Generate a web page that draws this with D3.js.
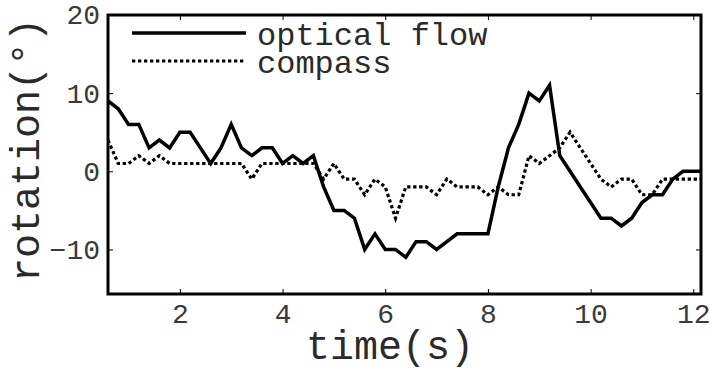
<!DOCTYPE html>
<html>
<head>
<meta charset="utf-8">
<script src="https://cdn.jsdelivr.net/npm/d3@7"></script>
<style>
  body { margin: 0; background: #fff; }
  text { font-family: "Liberation Mono", "Courier New", monospace; }
</style>
</head>
<body>
<svg width="710" height="371"></svg>
<script>
var time = [0.6, 0.8, 1.0, 1.2, 1.4, 1.6, 1.8, 2.0, 2.2, 2.4, 2.6, 2.8, 3.0, 3.2, 3.4, 3.6, 3.8, 4.0, 4.2, 4.4,
    4.6, 4.8, 5.0, 5.2, 5.4, 5.6, 5.8, 6.0, 6.2, 6.4, 6.6, 6.8, 7.0, 7.2, 7.4, 7.6, 7.8, 8.0, 8.2, 8.4,
    8.6, 8.8, 9.0, 9.2, 9.4, 9.6, 9.8, 10.0, 10.2, 10.4, 10.6, 10.8, 11.0, 11.2, 11.4, 11.6, 11.8, 12.0, 12.2];

var opticalFlow = [9, 8, 6, 6, 3, 4, 3, 5, 5, 3, 1, 3, 6, 3, 2, 3, 3, 1, 2, 1,
    2, -2, -5, -5, -6, -10, -8, -10, -10, -11, -9, -9, -10, -9, -8, -8, -8, -8, -2, 3,
    6, 10, 9, 11, 2, 0, -2, -4, -6, -6, -7, -6, -4, -3, -3, -1, 0, 0, 0];

var compass = [4, 1, 1, 2, 1, 2, 1, 1, 1, 1, 1, 1, 1, 1, -1, 1, 1, 1, 1, 1,
    1, -1, 1, -1, -1, -3, -1, -2, -6, -2, -2, -2, -3, -1, -2, -2, -2, -3, -2, -3,
    -3, 2, 1, 2, 3, 5, 3, 1, -1, -2, -1, -1, -3, -3, -1, -1, -1, -1, -1];

var xTicks = [2, 4, 6, 8, 10, 12];
var yTicks = [-10, 0, 10, 20];
var seriesNames = ["optical flow", "compass"];

var svg = d3.select("svg"),
    margin = {top: 15, right: 9, bottom: 77, left: 108},
    width = +svg.attr("width") - margin.left - margin.right,
    height = +svg.attr("height") - margin.top - margin.bottom,
    g = svg.append("g").attr("transform", "translate(" + margin.left + "," + margin.top + ")");

var x = d3.scaleLinear()
    .domain([0.6, 12.15])
    .range([0, width]);

var y = d3.scaleLinear()
    .domain([-15.7, 20])
    .range([height, 0]);

g.append("clipPath")
    .attr("id", "clip")
  .append("rect")
    .attr("width", width)
    .attr("height", height);

var line = d3.line()
    .x(function(d) { return x(d[0]); })
    .y(function(d) { return y(d[1]); });

var flowData = time.map(function(t, i) { return [t, opticalFlow[i]]; });
var compassData = time.map(function(t, i) { return [t, compass[i]]; });

var fmt = function(d) { return d < 0 ? "\u2212" + Math.abs(d) : "" + d; };

// axes: ticks point inward on all four sides
var styleAxis = function(sel) {
    sel.select(".domain").remove();
    sel.selectAll(".tick line").attr("stroke", "#000").attr("stroke-width", 1);
    sel.selectAll(".tick text")
        .attr("fill", "#3a3a3a")
        .style("font-size", "28px");
};

g.append("g")
    .attr("transform", "translate(0," + height + ")")
    .call(d3.axisBottom(x).tickValues(xTicks).tickSize(-5).tickPadding(9).tickFormat(fmt))
    .call(styleAxis);

g.append("g")
    .call(d3.axisTop(x).tickValues(xTicks).tickSize(-5).tickFormat(""))
    .call(styleAxis);

g.append("g")
    .call(d3.axisLeft(y).tickValues(yTicks).tickSize(-5).tickPadding(8).tickFormat(fmt))
    .call(styleAxis);

g.append("g")
    .attr("transform", "translate(" + width + ",0)")
    .call(d3.axisRight(y).tickValues(yTicks).tickSize(-5).tickFormat(""))
    .call(styleAxis);

var lines = g.append("g").attr("clip-path", "url(#clip)");

lines.append("path")
    .datum(flowData)
    .attr("fill", "none")
    .attr("stroke", "#000")
    .attr("stroke-width", 3.5)
    .attr("d", line);

lines.append("path")
    .datum(compassData)
    .attr("fill", "none")
    .attr("stroke", "#000")
    .attr("stroke-width", 3.2)
    .attr("stroke-dasharray", "3.3,2.7")
    .attr("d", line);

// frame
g.append("rect")
    .attr("width", width)
    .attr("height", height)
    .attr("fill", "none")
    .attr("stroke", "#000")
    .attr("stroke-width", 3);

// legend
var legend = svg.append("g");
var legendY = [33, 61];
legend.selectAll("line")
    .data(seriesNames)
    .enter().append("line")
    .attr("x1", 132)
    .attr("x2", 246)
    .attr("y1", function(d, i) { return legendY[i]; })
    .attr("y2", function(d, i) { return legendY[i]; })
    .attr("stroke", "#000")
    .attr("stroke-width", function(d, i) { return i ? 3.2 : 3.5; })
    .attr("stroke-dasharray", function(d, i) { return i ? "3.3,2.7" : null; });

legend.selectAll("text")
    .data(seriesNames)
    .enter().append("text")
    .attr("x", 257)
    .attr("y", function(d, i) { return legendY[i] + 12; })
    .attr("fill", "#2a2a2a")
    .style("font-size", "32px")
    .text(function(d) { return d; });

// axis titles
svg.append("text")
    .attr("x", 390)
    .attr("y", 359)
    .attr("text-anchor", "middle")
    .attr("fill", "#2a2a2a")
    .style("font-size", "40px")
    .text("time(s)");

svg.append("text")
    .attr("transform", "translate(39,150) rotate(-90)")
    .attr("text-anchor", "middle")
    .attr("fill", "#2a2a2a")
    .style("font-size", "40px")
    .text("rotation(°)");
</script>
</body>
</html>
